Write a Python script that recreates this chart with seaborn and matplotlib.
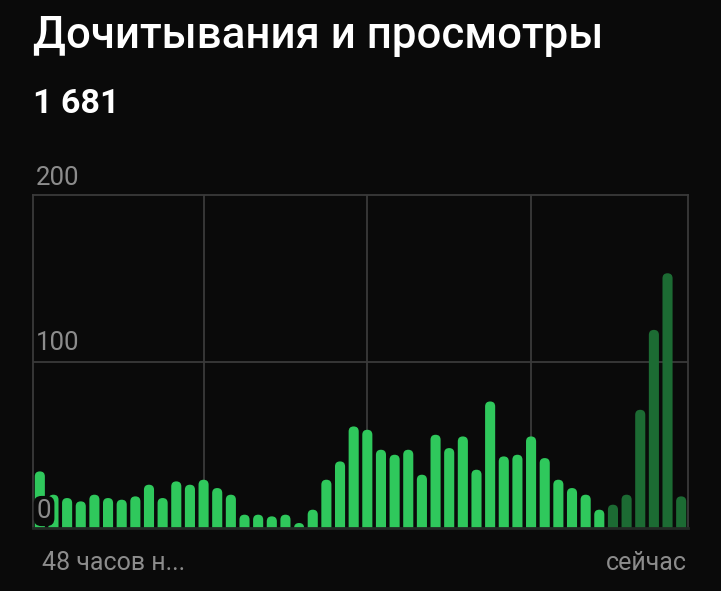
import numpy as np
import pandas as pd
import matplotlib
matplotlib.use("Agg")
import matplotlib.pyplot as plt
from matplotlib.patches import FancyBboxPatch
import seaborn as sns

# просмотры по часам за последние 48 часов
hours = list(range(48))
views = [34, 20, 18, 16, 20, 18, 17, 19, 26, 18, 28, 26, 29, 24, 20, 8,
         8, 7, 8, 3, 11, 29, 40, 61, 59, 47, 44, 47, 32, 56, 48, 55,
         35, 76, 43, 44, 55, 42, 29, 24, 20, 11, 14, 20, 71, 119, 153, 19]
recent = [False] * 42 + [True] * 6
total = "1 681"
title = "Дочитывания и просмотры"

bg = "#0a0a0a"
green = "#2fc85c"
dark_green = "#1c6b33"
grid_c = "#3a3a3a"
label_c = "#8c8c8c"

df = pd.DataFrame({"hour": hours, "views": views, "recent": recent})

sns.set_style("dark")
plt.rcParams["font.family"] = ["Roboto", "DejaVu Sans"]

fig = plt.figure(figsize=(7.21, 5.91), dpi=100, facecolor=bg)
ax = fig.add_axes([33 / 721, 63 / 591, 655 / 721, 333 / 591])
ax.set_facecolor(bg)

sns.barplot(data=df, x="hour", y="views", hue="recent",
            palette={False: green, True: dark_green}, dodge=False,
            width=0.74, saturation=1, legend=False, ax=ax)

ax.set_xlim(-0.5, 47.5)
ax.set_ylim(0, 200)

# скругляем верх столбиков
fig.canvas.draw()
bb = ax.get_window_extent()
aspect = (200 / bb.height) / (48 / bb.width)
for p in list(ax.patches):
    x, w, h, fc = p.get_x(), p.get_width(), p.get_height(), p.get_facecolor()
    p.remove()
    r = w / 2
    ax.add_patch(FancyBboxPatch((x, -r * aspect), w, h + r * aspect,
                                boxstyle=f"round,pad=0,rounding_size={r}",
                                mutation_aspect=aspect, fc=fc, ec="none"))

ax.set_xticks([12, 24, 36])
ax.set_yticks([100])
ax.grid(True, color=grid_c, lw=1.3)
ax.tick_params(length=0, labelbottom=False, labelleft=False)
for s in ["top", "left", "right"]:
    ax.spines[s].set_visible(True)
    ax.spines[s].set_color(grid_c)
    ax.spines[s].set_linewidth(1.3)
ax.spines["bottom"].set_visible(True)
ax.spines["bottom"].set_color("#222a24")
ax.spines["bottom"].set_linewidth(2)
ax.set_xlabel("")
ax.set_ylabel("")

# подписи шкалы внутри графика
ax.text(-0.28, 206, "200", color=label_c, fontsize=18.5)
ax.text(-0.28, 107, "100", color=label_c, fontsize=18.5)
ax.text(-0.22, 6, "0", color=label_c, fontsize=18.5, zorder=5,
        bbox=dict(boxstyle="round,pad=0.12,rounding_size=0.3", fc=bg, ec="none"))

fig.text(33 / 721, 0.919, title, color="white", fontsize=31.5, fontweight="medium")
fig.text(33 / 721, 0.809, total, color="white", fontsize=24.5, fontweight="bold")
fig.text(42 / 721, 0.0355, "48 часов н...", color=label_c, fontsize=18)
fig.text(687 / 721, 0.0355, "сейчас", color=label_c, fontsize=18, ha="right")

fig.savefig("out.png", dpi=100, facecolor=bg)
